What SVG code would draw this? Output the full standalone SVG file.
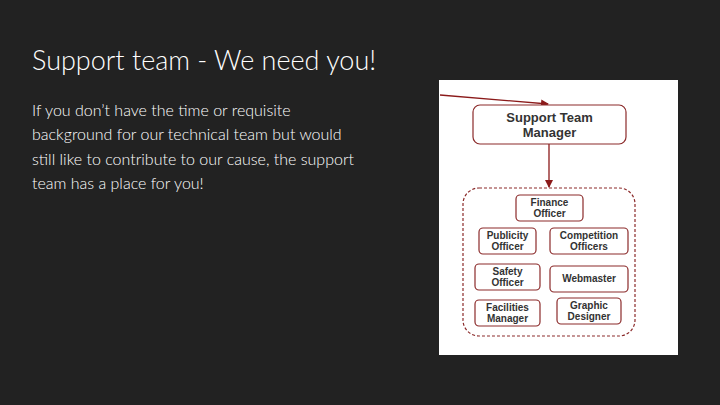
<svg xmlns="http://www.w3.org/2000/svg" width="720" height="405" viewBox="0 0 720 405">
<defs>
<marker id="ah" markerWidth="8" markerHeight="8" refX="7" refY="4" orient="auto" markerUnits="userSpaceOnUse"><path d="M0,0 L8,4 L0,8 Z" fill="#8b1a1a"/></marker>
<style>
.box{fill:#fff;stroke:#8b2a2a;stroke-width:1.2}
.t{font-family:"Liberation Sans",Arial,sans-serif;font-weight:bold;fill:#333;font-size:10px;text-anchor:middle}
.big{font-size:13px}
.body{font-family:Lato,"Open Sans",sans-serif;font-weight:300;fill:#fff;font-size:16px}
</style>
</defs>
<rect width="720" height="405" fill="#222"/>
<text x="32" y="70" font-family="Lato,'Open Sans',sans-serif" font-weight="300" font-size="27" fill="#fff">Support team - We need you!</text>
<text class="body"><tspan x="32" y="116">If you don’t have the time or requisite</tspan><tspan x="32" y="140">background for our technical team but would</tspan><tspan x="32" y="165">still like to contribute to our cause, the support</tspan><tspan x="32" y="189">team has a place for you!</tspan></text>
<rect x="439" y="80" width="239" height="275" fill="#fff"/>
<g id="connectors" stroke="#8b1a1a" stroke-width="1.3" fill="none">
<line x1="440" y1="95" x2="548" y2="104" marker-end="url(#ah)"/>
<line x1="549" y1="144" x2="549" y2="187" marker-end="url(#ah)"/>
</g>
<g id="group"><rect x="463" y="188" width="172" height="148" rx="16" fill="none" stroke="#8b2a2a" stroke-width="1.2" stroke-dasharray="3,2"/></g>
<g id="manager"><rect class="box" x="473" y="105" width="153" height="39" rx="7"/><text class="t big"><tspan x="549.5" y="122">Support Team</tspan><tspan x="549.5" y="137">Manager</tspan></text></g>
<g id="finance"><rect class="box" x="516" y="195" width="67" height="26" rx="4"/><text class="t"><tspan x="549.5" y="206">Finance</tspan><tspan x="549.5" y="217">Officer</tspan></text></g>
<g id="publicity"><rect class="box" x="479" y="228" width="57" height="26" rx="4"/><text class="t"><tspan x="507.5" y="239">Publicity</tspan><tspan x="507.5" y="250">Officer</tspan></text></g>
<g id="competition"><rect class="box" x="550" y="228" width="78" height="26" rx="4"/><text class="t"><tspan x="589" y="239">Competition</tspan><tspan x="589" y="250">Officers</tspan></text></g>
<g id="safety"><rect class="box" x="475" y="264" width="65" height="26" rx="4"/><text class="t"><tspan x="507.5" y="275">Safety</tspan><tspan x="507.5" y="286">Officer</tspan></text></g>
<g id="webmaster"><rect class="box" x="550" y="266" width="78" height="26" rx="4"/><text class="t" x="589" y="282">Webmaster</text></g>
<g id="facilities"><rect class="box" x="475" y="300" width="65" height="26" rx="4"/><text class="t"><tspan x="507.5" y="311">Facilities</tspan><tspan x="507.5" y="322">Manager</tspan></text></g>
<g id="graphic"><rect class="box" x="557" y="298" width="64" height="26" rx="4"/><text class="t"><tspan x="589" y="309">Graphic</tspan><tspan x="589" y="320">Designer</tspan></text></g>
</svg>
